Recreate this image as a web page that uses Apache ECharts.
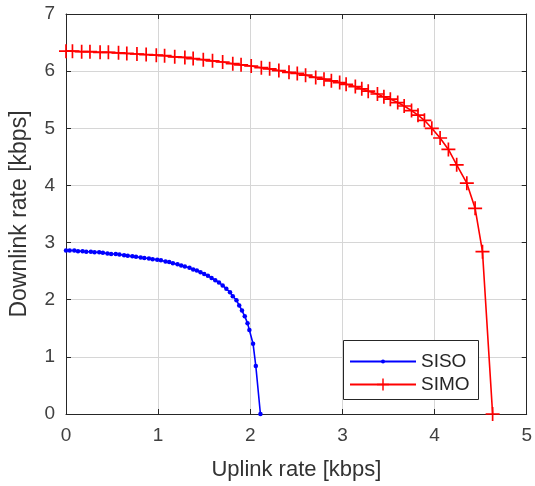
<!DOCTYPE html>
<html>
<head>
<meta charset="utf-8">
<script src="https://cdn.jsdelivr.net/npm/echarts@6/dist/echarts.min.js"></script>
<style>html,body{margin:0;padding:0;background:#fff;}#c{width:535px;height:486px;}</style>
</head>
<body>
<div id="c"></div>
<script>
// ---- data ----
const xTicks = [0, 1, 2, 3, 4, 5];
const yTicks = [0, 1, 2, 3, 4, 5, 6, 7];

const sisoX = [0.00,0.04,0.09,0.13,0.18,0.22,0.27,0.31,0.36,0.40,0.45,0.49,0.54,0.58,0.63,0.67,0.72,0.76,0.81,0.85,0.90,0.94,0.99,1.03,1.08,1.12,1.16,1.21,1.25,1.29,1.34,1.38,1.42,1.46,1.50,1.54,1.58,1.62,1.66,1.70,1.74,1.78,1.81,1.85,1.88,1.91,1.94,1.97,1.99,2.03,2.06,2.11];
const sisoY = [2.86,2.86,2.86,2.85,2.85,2.84,2.84,2.83,2.83,2.82,2.81,2.80,2.80,2.79,2.78,2.77,2.76,2.75,2.74,2.73,2.72,2.71,2.70,2.69,2.67,2.66,2.64,2.62,2.60,2.58,2.56,2.53,2.51,2.48,2.45,2.42,2.38,2.34,2.30,2.25,2.19,2.13,2.06,1.99,1.90,1.81,1.71,1.59,1.47,1.23,0.84,0.00];

const simoX = [0.00,0.07,0.17,0.26,0.37,0.46,0.57,0.66,0.77,0.87,0.98,1.07,1.18,1.29,1.38,1.49,1.59,1.70,1.81,1.90,2.01,2.12,2.21,2.31,2.42,2.51,2.60,2.71,2.80,2.88,2.97,3.04,3.14,3.21,3.28,3.38,3.45,3.52,3.60,3.67,3.75,3.82,3.89,3.97,4.06,4.15,4.24,4.35,4.44,4.52,4.63];
const simoY = [6.35,6.35,6.34,6.34,6.33,6.33,6.32,6.31,6.30,6.29,6.28,6.27,6.25,6.24,6.22,6.20,6.18,6.16,6.13,6.11,6.09,6.06,6.04,6.01,5.98,5.96,5.93,5.89,5.86,5.83,5.80,5.77,5.73,5.69,5.65,5.60,5.55,5.51,5.45,5.39,5.31,5.23,5.14,5.00,4.83,4.63,4.36,4.04,3.60,2.84,0.00];

const seriesNames = ['SISO', 'SIMO'];
const xName = 'Uplink rate [kbps]';
const yName = 'Downlink rate [kbps]';

const zip = (a, b) => a.map((v, i) => [v, b[i]]);
const FONT = '"Liberation Sans", Arial, Helvetica, sans-serif';
const AX = '#262626';
const PLUS = 'path://M4.4,0H5.6V4.4H10V5.6H5.6V10H4.4V5.6H0V4.4H4.4Z';

const chart = echarts.init(document.getElementById('c'), null, {renderer: 'canvas'});

const baseX = {
  type: 'value', min: xTicks[0], max: xTicks[xTicks.length - 1], interval: 1,
  axisLine: {show: true, onZero: false, lineStyle: {color: AX, width: 1}},
  axisTick: {show: true, inside: true, length: 5, lineStyle: {color: AX}},
  splitLine: {show: false}
};
const baseY = {
  type: 'value', min: yTicks[0], max: yTicks[yTicks.length - 1], interval: 1,
  axisLine: {show: true, onZero: false, lineStyle: {color: AX, width: 1}},
  axisTick: {show: true, inside: true, length: 5, lineStyle: {color: AX}},
  splitLine: {show: false}
};

chart.setOption({
  animation: false,
  backgroundColor: '#ffffff',
  textStyle: {fontFamily: FONT},
  grid: {left: 65, right: 6, top: 14, bottom: 72, containLabel: false},
  xAxis: [
    Object.assign({}, baseX, {
      position: 'bottom',
      name: xName, nameLocation: 'middle', nameGap: 45,
      nameTextStyle: {fontSize: 22, color: '#333', fontFamily: FONT},
      axisLabel: {fontSize: 19, color: '#404040', margin: 12, fontFamily: FONT},
      splitLine: {show: true, lineStyle: {color: '#d6d6d6', width: 1}}
    }),
    Object.assign({}, baseX, {position: 'top', axisLabel: {show: false}})
  ],
  yAxis: [
    Object.assign({}, baseY, {
      position: 'left',
      name: yName, nameLocation: 'middle', nameGap: 35,
      nameTextStyle: {fontSize: 23, color: '#333', fontFamily: FONT},
      axisLabel: {fontSize: 19, color: '#404040', margin: 11, fontFamily: FONT},
      splitLine: {show: true, lineStyle: {color: '#d6d6d6', width: 1}}
    }),
    Object.assign({}, baseY, {position: 'right', axisLabel: {show: false}})
  ],
  legend: [
    {
      data: [seriesNames[0]], left: 349, top: 352, orient: 'vertical',
      itemWidth: 66, itemHeight: 5, itemGap: 0, padding: 0,
      textStyle: {fontSize: 19, color: '#262626', fontFamily: FONT},
      selectedMode: false
    },
    {
      data: [seriesNames[1]], left: 349, top: 375, orient: 'vertical',
      itemWidth: 66, itemHeight: 15, itemGap: 0, padding: 0,
      textStyle: {fontSize: 19, color: '#262626', fontFamily: FONT},
      selectedMode: false
    }
  ],
  graphic: [{
    type: 'rect', z: 3, left: 343, top: 340,
    shape: {width: 135, height: 59},
    style: {fill: '#ffffff', stroke: '#262626', lineWidth: 1}
  }],
  series: [
    {
      name: seriesNames[0], type: 'line', data: zip(sisoX, sisoY),
      xAxisIndex: 0, yAxisIndex: 0,
      symbol: 'circle', symbolSize: 4.5, showAllSymbol: true,
      lineStyle: {color: '#0000ff', width: 1.6},
      itemStyle: {color: '#0000ff', borderWidth: 0},
      clip: false, z: 2
    },
    {
      name: seriesNames[1], type: 'line', data: zip(simoX, simoY),
      xAxisIndex: 0, yAxisIndex: 0,
      symbol: PLUS, symbolSize: 14, showAllSymbol: true,
      lineStyle: {color: '#ff0000', width: 1.6},
      itemStyle: {color: '#ff0000', borderWidth: 0},
      clip: false, z: 2
    }
  ]
});
</script>
</body>
</html>
